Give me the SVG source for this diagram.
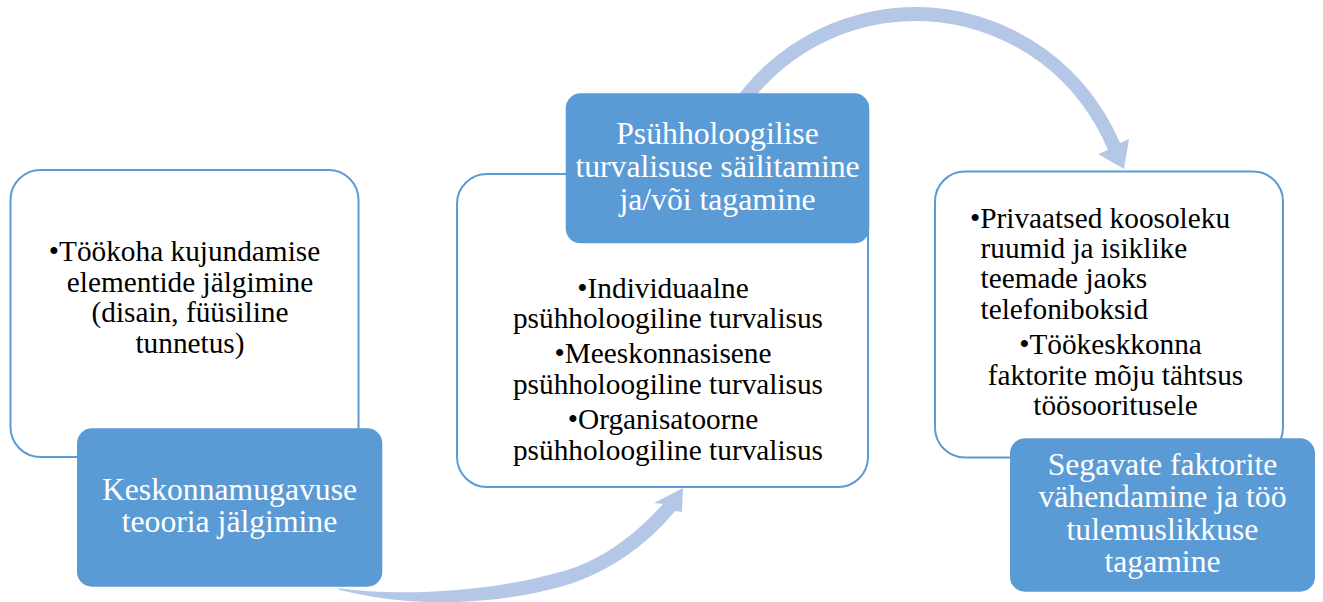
<svg xmlns="http://www.w3.org/2000/svg" width="1323" height="602" viewBox="0 0 1323 602">
  <style>
    .detail { fill: #ffffff; stroke: #5b9bd5; stroke-width: 2; }
    .title { fill: #5b9bd5; }
    .arrow { fill: #b4c7e7; }
    text { font-family: "Liberation Serif", "Times New Roman", serif; }
    .td { font-size: 29.3px; fill: #000000; }
    .tt { font-size: 31.7px; fill: #ffffff; text-anchor: middle; }
    .c { text-anchor: middle; }
  </style>
  <rect width="1323" height="602" fill="#ffffff"/>

  <g id="node1-detail">
    <rect class="detail" x="10.5" y="170" width="348" height="287" rx="30" ry="30"/>
    <text class="td c" x="184.5" y="261">•Töökoha kujundamise</text>
    <text class="td c" x="190" y="291.5">elementide jälgimine</text>
    <text class="td c" x="190" y="322">(disain, füüsiline</text>
    <text class="td c" x="190" y="352.5">tunnetus)</text>
  </g>

  <g id="node2-detail">
    <rect class="detail" x="457" y="174" width="411" height="313" rx="30" ry="30"/>
    <text class="td c" x="663" y="298.3">•Individuaalne</text>
    <text class="td c" x="668" y="328.3">psühholoogiline turvalisus</text>
    <text class="td c" x="663" y="363.3">•Meeskonnasisene</text>
    <text class="td c" x="668" y="394">psühholoogiline turvalisus</text>
    <text class="td c" x="663" y="429.3">•Organisatoorne</text>
    <text class="td c" x="668" y="460">psühholoogiline turvalisus</text>
  </g>

  <g id="node3-detail">
    <rect class="detail" x="935" y="171.5" width="348" height="286" rx="30" ry="30"/>
    <text class="td" x="970" y="228.3">•Privaatsed koosoleku</text>
    <text class="td" x="980.5" y="258.3">ruumid ja isiklike</text>
    <text class="td" x="980.5" y="288.3">teemade jaoks</text>
    <text class="td" x="980.5" y="319">telefoniboksid</text>
    <text class="td c" x="1110.5" y="354.3">•Töökeskkonna</text>
    <text class="td c" x="1115.5" y="385">faktorite mõju tähtsus</text>
    <text class="td c" x="1115.5" y="415">töösooritusele</text>
  </g>

  <g id="connectors">
    <path class="arrow" d="M 337,588 C 400,597 490,592 560,572 C 600,562 635,535 663,504 L 654,503 L 683,488 L 682,512 L 675,511 C 655,536 615,572 560,587 C 500,603 420,610 340,590 Z"/>
    <path class="arrow" d="M 728,110 A 222 222 0 0 1 1120,143 L 1129,139 L 1124,169 L 1098,154 L 1108,150 A 208 208 0 0 0 745,110 Z"/>
  </g>

  <g id="node1-title">
    <rect class="title" x="77" y="428.3" width="305.3" height="158.4" rx="15" ry="15"/>
    <text class="tt" x="229.5" y="500">Keskonnamugavuse</text>
    <text class="tt" x="229.5" y="531.7">teooria jälgimine</text>
  </g>

  <g id="node2-title">
    <rect class="title" x="565.7" y="93.3" width="303.6" height="150" rx="15" ry="15"/>
    <text class="tt" x="717.5" y="144.3">Psühholoogilise</text>
    <text class="tt" x="717.5" y="177">turvalisuse säilitamine</text>
    <text class="tt" x="717.5" y="209.5">ja/või tagamine</text>
  </g>

  <g id="node3-title">
    <rect class="title" x="1010" y="438.3" width="305" height="153.4" rx="15" ry="15"/>
    <text class="tt" x="1162.5" y="475">Segavate faktorite</text>
    <text class="tt" x="1162.5" y="507">vähendamine ja töö</text>
    <text class="tt" x="1162.5" y="539.5">tulemuslikkuse</text>
    <text class="tt" x="1162.5" y="571.7">tagamine</text>
  </g>
</svg>
